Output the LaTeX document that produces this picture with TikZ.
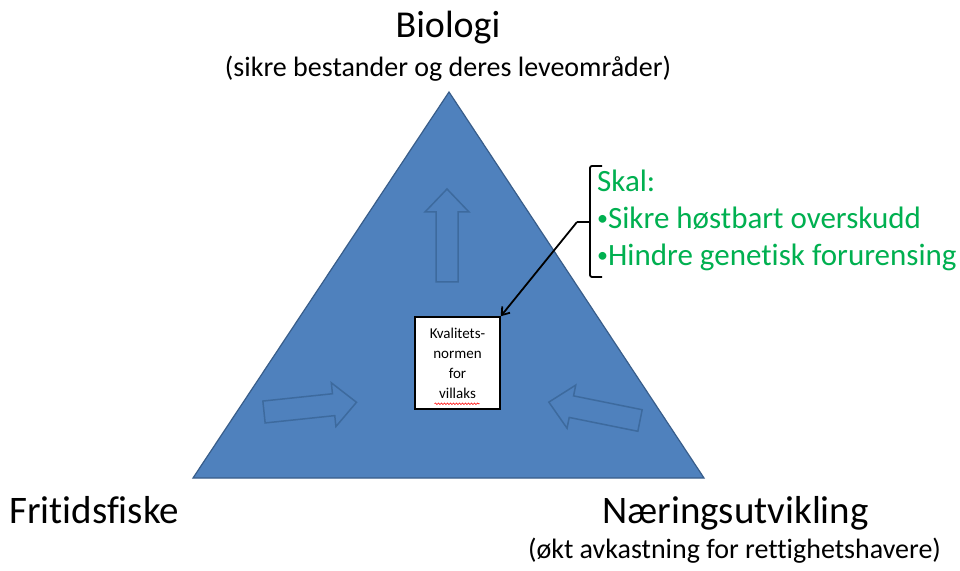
\documentclass[tikz,border=0pt]{standalone}
\usepackage{fontspec}
\setmainfont[Ligatures=NoCommon]{Carlito}
\usetikzlibrary{arrows.meta,decorations.pathmorphing,calc}
\definecolor{triblue}{HTML}{4F81BD}
\definecolor{triedge}{HTML}{385D8A}
\definecolor{arredge}{HTML}{3D6A9E}
\definecolor{skalgreen}{HTML}{00B050}
\newcommand{\smallbullet}{\raisebox{0.12em}{\fontsize{22}{24}\selectfont •}}
\begin{document}
\begin{tikzpicture}[x=1pt,y=1pt,
  big/.style={font=\fontsize{39}{46}\selectfont, inner sep=0pt},
  subtext/.style={font=\fontsize{28}{33}\selectfont, inner sep=0pt},
  greentext/.style={font=\fontsize{31}{37}\selectfont, text=skalgreen, inner sep=0pt, anchor=base west},
  barrow/.style={draw=arredge, line width=1.5pt, fill=triblue, line join=miter},
  blockarrow/.pic={\path[barrow] (0,-11) -- (70,-11) -- (70,-22) -- (93,0) -- (70,22) -- (70,11) -- (0,11) -- cycle;},
  bracket/.style={black, line width=1.8pt},
]
\useasboundingbox (0,0) rectangle (960,570);
\fill[white] (0,0) rectangle (960,570);
\coordinate (apex) at (449,478);
\coordinate (bl) at (193,92);
\coordinate (br) at (704,92);
\filldraw[fill=triblue, draw=triedge, line width=1.2pt] (apex) -- (br) -- (bl) -- cycle;

\pic (uparrow) [rotate=90] at (447,288) {blockarrow};
\pic (rightarrow) [rotate=6] at (264,158) {blockarrow};
\pic (leftarrow) [rotate=168.6] at (640,149.5) {blockarrow};

\node (box) [draw=black, line width=1.5pt, fill=white, minimum width=85pt, minimum height=92pt, inner sep=0pt, align=center, font=\fontsize{15}{20}\selectfont] at (457.5,207) {Kvalitets-\\normen\\for\\villaks};
\draw[red, decorate, decoration={snake, amplitude=0.8pt, segment length=3pt}, line width=0.6pt] ($(box.south)+(-23,6)$) -- ($(box.south)+(22,6)$);

\coordinate (bracetip) at (577,348);
\draw[bracket, rounded corners=2pt] (602,404) -- (590,404) -- (590,293) -- (602,293);
\draw[bracket] (590,348) -- (bracetip);
\draw[bracket, -{Straight Barb[length=7pt,width=10pt]}] (bracetip) -- (box.north east);

\node[big, anchor=base, font=\fontsize{38}{45}\selectfont] (bio) at (448,532) {Biologi};
\node[subtext, anchor=base] (biosub) at (448,493) {(sikre bestander og deres leveområder)};
\node[big, anchor=base west] (fri) at (9,47) {Fritidsfiske};
\node[big, anchor=base] (naer) at (735.5,47) {Næringsutvikling};
\node[subtext, anchor=base] (naersub) at (734.5,12) {(økt avkastning for rettighetshavere)};
\node[greentext] (skal) at (597,378) {Skal:};
\node[greentext] (g1) at (597,341) {\smallbullet Sikre høstbart overskudd};
\node[greentext] (g2) at (597,304) {\smallbullet Hindre genetisk forurensing};
\end{tikzpicture}
\end{document}
